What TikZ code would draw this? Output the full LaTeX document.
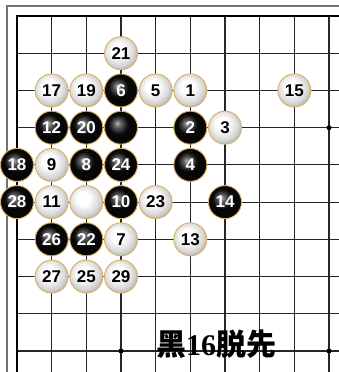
\documentclass[tikz,border=0pt]{standalone}
\usepackage{fontspec}
\setmainfont{Liberation Sans}
\newfontfamily\cjkfont{Noto Sans CJK SC}
\newfontfamily\serifdig{Liberation Serif}
\definecolor{rimgold}{HTML}{D8B060}
\pgfdeclareradialshading{bstoneshade}{\pgfpoint{-6bp}{7bp}}{color(0bp)=(black!30); color(6bp)=(black!65); color(15bp)=(black!97); color(50bp)=(black)}
\pgfdeclareradialshading{wstoneshade}{\pgfpoint{-6bp}{7bp}}{color(0bp)=(white); color(10bp)=(white); color(22bp)=(black!15); color(30bp)=(black!32); color(50bp)=(black!32)}
\tikzset{
  stone/.style={circle, minimum size=33pt, inner sep=0pt, draw=rimgold, line width=0.9pt,
    font=\fontsize{17}{17}\selectfont\bfseries},
  bst/.style={stone, shading=bstoneshade, text=white},
  wst/.style={stone, shading=wstoneshade, text=black},
  gridline/.style={line width=1.2pt, draw=black!85},
  edgeline/.style={line width=2.6pt, draw=black},
  frameline/.style={line width=1.5pt, draw=black!55},
  star/.style={circle, fill=black, inner sep=0pt, minimum size=5pt},
}
\begin{document}
\begin{tikzpicture}[x=1pt,y=-1pt]
\useasboundingbox (0,0) rectangle (339,372);
\fill[white] (0,0) rectangle (339,372);
% outer frame
\draw[frameline] (7,372) -- (7,6) -- (339,6);
% grid
\foreach \c in {1,...,9} { \draw[gridline] ({17+34.667*\c},16) -- ({17+34.667*\c},372); }
\foreach \r in {1,...,9} { \draw[gridline] (17,{16+37.222*\r}) -- (339,{16+37.222*\r}); }
% board edge
\draw[edgeline] (17,372) -- (17,16) -- (339,16);
\begin{scope}[shift={(17,16)}, x=34.667pt, y=-37.222pt]
  % star points
  \node[star] (hA) at (9,3) {};
  \node[star] (hB) at (3,9) {};
  \node[star] (hC) at (9,9) {};
  \node[star] (hD) at (3,3) {};
  % stones
  \node[wst] (w21) at (3,1) {21};
  \node[wst] (w17) at (1,2) {17};
  \node[wst] (w19) at (2,2) {19};
  \node[bst] (b6)  at (3,2) {6};
  \node[wst] (w5)  at (4,2) {5};
  \node[wst] (w1)  at (5,2) {1};
  \node[wst] (w15) at (8,2) {15};
  \node[bst] (b12) at (1,3) {12};
  \node[bst] (b20) at (2,3) {20};
  \node[bst] (b0)  at (3,3) {};
  \node[bst] (b2)  at (5,3) {2};
  \node[wst] (w3)  at (6,3) {3};
  \node[bst] (b18) at (0,4) {18};
  \node[wst] (w9)  at (1,4) {9};
  \node[bst] (b8)  at (2,4) {8};
  \node[bst] (b24) at (3,4) {24};
  \node[bst] (b4)  at (5,4) {4};
  \node[bst] (b28) at (0,5) {28};
  \node[wst] (w11) at (1,5) {11};
  \node[wst] (w0)  at (2,5) {};
  \node[bst] (b10) at (3,5) {10};
  \node[wst] (w23) at (4,5) {23};
  \node[bst] (b14) at (6,5) {14};
  \node[bst] (b26) at (1,6) {26};
  \node[bst] (b22) at (2,6) {22};
  \node[wst] (w7)  at (3,6) {7};
  \node[wst] (w13) at (5,6) {13};
  \node[wst] (w27) at (1,7) {27};
  \node[wst] (w25) at (2,7) {25};
  \node[wst] (w29) at (3,7) {29};
\end{scope}
\node[inner sep=0pt, font=\fontsize{30}{30}\selectfont] (cap) at (216,344)
  {{\cjkfont\bfseries 黑}{\serifdig\bfseries 16}{\cjkfont\bfseries 脱先}};
\end{tikzpicture}
\end{document}
